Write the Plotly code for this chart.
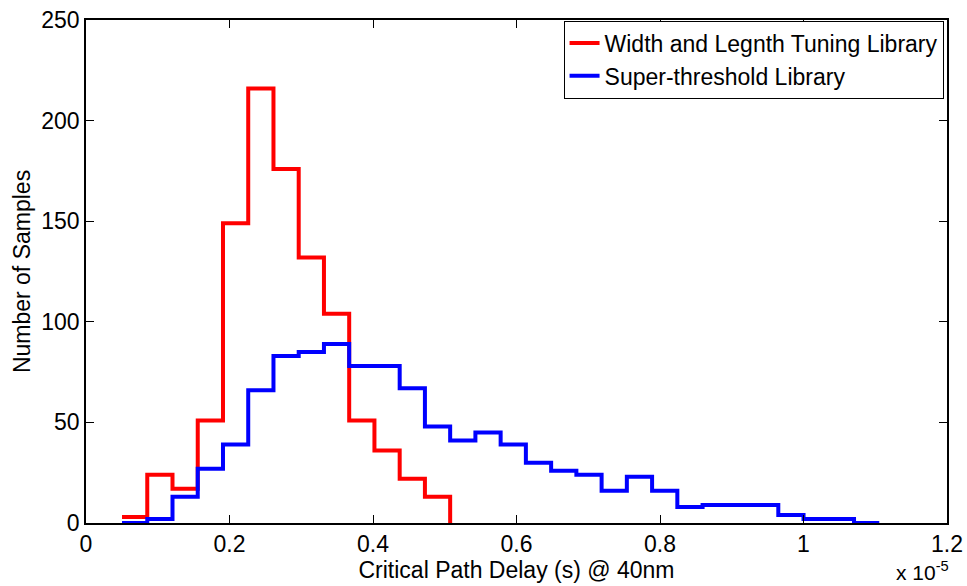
import numpy as np
import plotly.graph_objects as go

# Bin layout (x in units of 1e-5 s)
bin_start = 0.0502
bin_width = 0.03518

red_counts = [3, 24, 17, 51, 149, 216, 176, 132, 104, 51, 36, 22, 13]
blue_counts = [0, 2, 13, 27, 39, 66, 83, 85, 89, 78, 78, 67, 48, 41, 45,
               39, 30, 26, 24, 16, 23, 16, 8, 9, 9, 9, 4, 2, 2, 0]

red_name = "Width and Legnth Tuning Library"
blue_name = "Super-threshold Library"

x_ticks = [0, 0.2, 0.4, 0.6, 0.8, 1.0, 1.2]
x_tick_labels = ["0", "0.2", "0.4", "0.6", "0.8", "1", "1.2"]
y_ticks = [0, 50, 100, 150, 200, 250]


def stairs(counts):
    edges = bin_start + bin_width * np.arange(len(counts) + 1)
    ys = list(counts) + [0]
    return edges, ys


FONT = "Liberation Sans, Arial, sans-serif"
FS = 23

fig = go.Figure()
rx, ry = stairs(red_counts)
bx, by = stairs(blue_counts)
fig.add_trace(go.Scatter(x=rx, y=ry, mode="lines", line_shape="hv",
                         line=dict(color="#ff0000", width=4), name=red_name))
fig.add_trace(go.Scatter(x=bx, y=by, mode="lines", line_shape="hv",
                         line=dict(color="#0000ff", width=4), name=blue_name))

axis_common = dict(showline=True, linecolor="black", linewidth=1.5, mirror="ticks",
                   ticks="inside", ticklen=8, tickcolor="black", showgrid=False,
                   zeroline=False, automargin=False,
                   tickfont=dict(family=FONT, size=FS, color="black"))

fig.update_xaxes(range=[0, 1.2], tickvals=x_ticks, ticktext=x_tick_labels,
                 title=dict(text="Critical Path Delay (s) @ 40nm",
                            font=dict(family=FONT, size=FS, color="black"), standoff=0),
                 **axis_common)
fig.update_yaxes(range=[0, 250], tickvals=y_ticks,
                 title=dict(text="Number of Samples",
                            font=dict(family=FONT, size=FS, color="black"), standoff=4),
                 **axis_common)

fig.add_annotation(text="x 10<sup>-5</sup>", xref="paper", yref="paper",
                   x=1.0, y=0, xanchor="right", yanchor="bottom", yshift=-63, xshift=4,
                   showarrow=False, font=dict(family=FONT, size=21, color="black"))

fig.update_layout(
    width=967, height=586,
    margin=dict(l=86, r=20, t=20, b=63),
    paper_bgcolor="white", plot_bgcolor="white",
    font=dict(family=FONT, size=FS, color="black"),
    legend=dict(x=0.996, y=0.999, xanchor="right", yanchor="top",
                bordercolor="black", borderwidth=1, bgcolor="white",
                font=dict(family=FONT, size=FS, color="black"),
                tracegroupgap=0, itemwidth=30),
)

fig.write_html("out.html")
